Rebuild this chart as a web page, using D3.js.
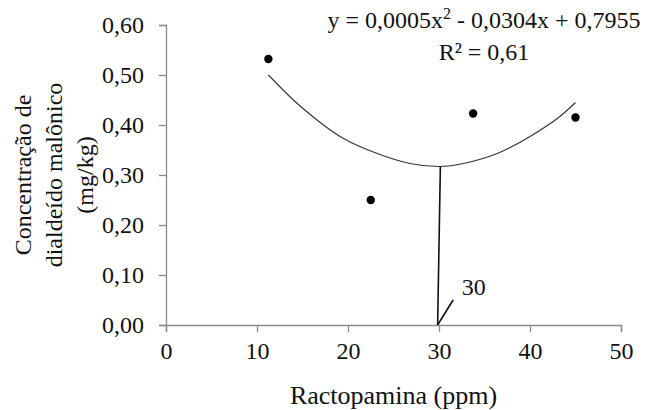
<!DOCTYPE html>
<html>
<head>
<meta charset="utf-8">
<script src="https://cdn.jsdelivr.net/npm/d3@7"></script>
<style>
  body { margin: 0; background: #fff; }
  svg text { font-family: "Liberation Serif", Tinos, "Times New Roman", "DejaVu Serif", serif; }
</style>
</head>
<body>
<svg width="646" height="410"></svg>
<script>
// observed means
const doses = [11.25, 22.5, 33.75, 45];
const mda = [0.532, 0.25, 0.423, 0.415];

// fitted curve
const fitX = [11.25, 14, 16.6, 19.5, 23.2, 26.8, 30, 32.7, 36.4, 40, 43, 45];
const fitY = [0.50, 0.45, 0.41, 0.373, 0.343, 0.323, 0.317, 0.323, 0.343, 0.377, 0.413, 0.445];

// minimum marker
const dropX = [30.15, 29.85];
const dropY = [0.317, 0];
const pointerX = [29.85, 31.55];
const pointerY = [0, 0.05];

const xTicks = [0, 10, 20, 30, 40, 50];
const yTicks = [0, 0.1, 0.2, 0.3, 0.4, 0.5, 0.6];

const svg = d3.select('svg');
const width = +svg.attr('width');
const height = +svg.attr('height');

const margin = { top: 25, right: 25, bottom: 85, left: 166 };
const innerWidth = width - margin.left - margin.right,
      innerHeight = height - margin.top - margin.bottom;

const br = d3.formatLocale({ decimal: ',', thousands: '.', grouping: [3], currency: ['R$', ''] });

const xScale = d3.scaleLinear().domain([0, 50]).range([0, innerWidth]);
const yScale = d3.scaleLinear().domain([0, 0.6]).range([innerHeight, 0]);

const g = svg.append('g')
    .attr('transform', `translate(${margin.left},${margin.top})`);

// axes
const yAxis = g.append('g')
    .call(d3.axisLeft(yScale).tickValues(yTicks).tickFormat(br.format('.2f')).tickSizeOuter(0).tickSize(7).tickPadding(15));
const xAxis = g.append('g')
    .attr('transform', `translate(0,${innerHeight})`)
    .call(d3.axisBottom(xScale).tickValues(xTicks).tickFormat(d => d).tickSizeOuter(0).tickSize(7).tickPadding(10));

[xAxis, yAxis].forEach(a => {
  a.attr('font-family', null).attr('font-size', null);
  a.selectAll('path, line').attr('stroke', '#8a8a8a').attr('stroke-width', 1.3);
  a.selectAll('text').attr('fill', '#111').style('font-size', '24px');
});
xAxis.selectAll('text').attr('dy', '0.71em');

// fitted curve
const fit = fitX.map((x, i) => [x, fitY[i]]);
g.append('path')
    .datum(fit)
    .attr('fill', 'none')
    .attr('stroke', '#333')
    .attr('stroke-width', 1.1)
    .attr('d', d3.line().x(d => xScale(d[0])).y(d => yScale(d[1])).curve(d3.curveNatural));

// drop line to x axis
const seg = d3.line().x(d => xScale(d[0])).y(d => yScale(d[1]));
g.append('path')
    .datum(dropX.map((x, i) => [x, dropY[i]]))
    .attr('fill', 'none').attr('stroke', '#111').attr('stroke-width', 1.6)
    .attr('d', seg);
g.append('path')
    .datum(pointerX.map((x, i) => [x, pointerY[i]]))
    .attr('fill', 'none').attr('stroke', '#111').attr('stroke-width', 1.6)
    .attr('d', seg);
g.append('text')
    .attr('x', xScale(32.5)).attr('y', yScale(0.06))
    .style('font-size', '24px').attr('fill', '#111')
    .text('30');

// points
g.selectAll('circle').data(doses)
  .enter().append('circle')
    .attr('cx', d => xScale(d))
    .attr('cy', (d, i) => yScale(mda[i]))
    .attr('r', 4.2)
    .attr('fill', '#000');

// equation
const eq = svg.append('text')
    .attr('x', 484).attr('y', 28)
    .attr('text-anchor', 'middle')
    .style('font-size', '24px').attr('fill', '#111');
eq.append('tspan').text('y = 0,0005x');
eq.append('tspan').attr('dy', -9).style('font-size', '16px').text('2');
eq.append('tspan').attr('dy', 9).text(' - 0,0304x + 0,7955');
svg.append('text')
    .attr('x', 484).attr('y', 60)
    .attr('text-anchor', 'middle')
    .style('font-size', '24px').attr('fill', '#111')
    .text('R² = 0,61');

// axis titles
svg.append('text')
    .attr('x', margin.left + innerWidth / 2).attr('y', 404)
    .attr('text-anchor', 'middle')
    .style('font-size', '26px').attr('fill', '#111')
    .text('Ractopamina (ppm)');

const yTitle = svg.append('text')
    .attr('transform', `translate(31,${margin.top + innerHeight / 2}) rotate(-90)`)
    .attr('text-anchor', 'middle')
    .style('font-size', '24px').attr('fill', '#111');
['Concentração de', 'dialdeído malônico', '(mg/kg)'].forEach((t, i) => {
  yTitle.append('tspan').attr('x', 0).attr('y', i * 31).text(t);
});
</script>
</body>
</html>
